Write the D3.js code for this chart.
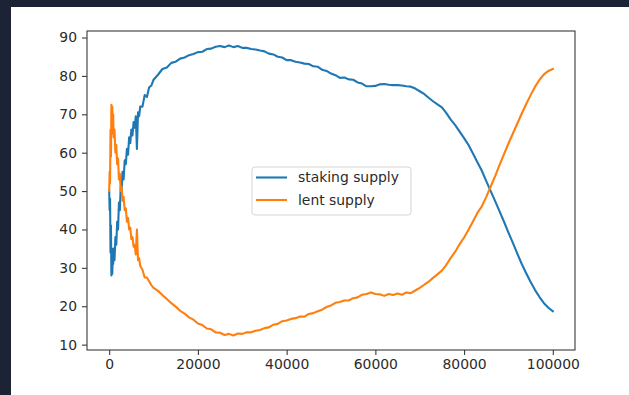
<!DOCTYPE html>
<html>
<head>
<meta charset="utf-8">
<script src="https://cdn.jsdelivr.net/npm/d3@7/dist/d3.min.js"></script>
<style>
  html, body { margin: 0; padding: 0; background: #1b2334; }
  svg { display: block; }
  .tick text { font-family: "DejaVu Sans", sans-serif; font-size: 13.9px; fill: #2b2b2b; }
  .tick line { stroke: #3a3a3a; stroke-width: 1.1px; }
</style>
</head>
<body>
<svg id="chart" width="629" height="395"></svg>
<script>
// Simulation step at which each sample was recorded
const steps = [
  0, 100, 200, 300, 400, 500, 600, 700, 800, 900, 1000, 1200, 1400, 1600, 1800, 2000,
  2200, 2400, 2600, 2800, 3000, 3250, 3500, 3750, 4000, 4250, 4500, 4750, 5000, 5250,
  5500, 5750, 6000, 6250, 6500, 6750, 7000, 7500, 8000, 8500, 9000, 9500,
  10000, 11000, 12000, 13000, 14000, 15000, 16000, 17000, 18000, 19000,
  20000, 21000, 22000, 23000, 24000, 25000, 26000, 27000, 28000, 29000,
  30000, 31000, 32000, 33000, 34000, 35000, 36000, 37000, 38000, 39000,
  40000, 41000, 42000, 43000, 44000, 45000, 46000, 47000, 48000, 49000,
  50000, 51000, 52000, 53000, 54000, 55000, 56000, 57000, 58000, 59000,
  60000, 61000, 62000, 63000, 64000, 65000, 66000, 67000, 68000, 69000,
  70000, 71000, 72000, 73000, 74000, 75000, 76000, 77000, 78000, 79000,
  80000, 81000, 82000, 83000, 84000, 85000, 86000, 87000, 88000, 89000,
  90000, 91000, 92000, 93000, 94000, 95000, 96000, 97000, 98000, 99000,
  100000
];

// Share of supply that is staked (%)
const stakingSupply = [
  50, 45, 48, 34, 41, 28, 35, 28.5, 33, 31, 35, 32, 38, 36, 42, 40,
  47, 45, 51, 50, 55, 53, 58, 57, 61, 59.5, 64, 62.5, 66, 64.5,
  68, 66.5, 69.5, 61, 70.5, 69.5, 72, 72, 75, 74.5, 77, 77.5,
  79, 80.3, 81.8, 82.2, 83.4, 83.7, 84.5, 84.8, 85.4, 85.7,
  86.2, 86.3, 87.0, 87.1, 87.6, 87.8, 87.5, 87.9, 87.5, 87.8,
  87.3, 87.3, 87.0, 86.9, 86.6, 86.4, 85.8, 85.6, 85.0, 84.8,
  84.1, 84.1, 83.7, 83.5, 83.2, 83.1, 82.5, 82.4, 81.6, 81.3,
  80.6, 80.2, 79.5, 79.6, 79.1, 79.0, 78.3, 78.0, 77.3, 77.3,
  77.4, 77.8, 77.9, 77.7, 77.6, 77.6, 77.5, 77.3, 77.2, 76.7,
  76.0, 75.3, 74.3, 73.4, 72.6, 71.8, 70.3, 68.6, 67.2, 65.5,
  63.8, 62.0, 59.8, 57.5, 55.3, 52.6, 50.0, 47.4, 44.7, 42.0,
  39.2, 36.5, 33.7, 31.0, 28.6, 26.3, 24.2, 22.4, 20.8, 19.6,
  18.7
];

// Share of supply that is lent out (%)
const lentSupply = [
  50, 55, 52, 66, 59, 72.5, 65, 72, 67, 70, 64, 66, 60, 62, 57, 58.5,
  53, 54.5, 50, 51, 47.5, 48.5, 45, 45.5, 42, 43, 40, 40.5, 37.5, 38,
  35.5, 36, 33.5, 40, 32, 32.5, 30.5, 29.5, 27.5, 27.5, 26.5, 25.5,
  24.8, 24.0, 22.9, 21.9, 20.8, 19.9, 18.8, 18.1, 17.1, 16.5,
  15.5, 15.1, 14.2, 14.0, 13.2, 13.1, 12.5, 12.8, 12.4, 12.9,
  12.8, 13.2, 13.2, 13.6, 13.8, 14.3, 14.5, 15.2, 15.4, 16.1,
  16.3, 16.7, 16.9, 17.3, 17.3, 18.0, 18.2, 18.7, 19.1, 19.8,
  20.2, 20.9, 21.1, 21.5, 21.5, 22.1, 22.3, 23.0, 23.2, 23.6,
  23.2, 23.1, 22.7, 23.2, 22.9, 23.3, 23.0, 23.6, 23.4, 24.1,
  24.8, 25.6, 26.4, 27.4, 28.3, 29.3, 30.8, 32.6, 34.2, 36.2,
  37.9, 39.9, 42.1, 44.3, 46.0, 48.5, 51.2, 53.9, 56.8, 59.6,
  62.4, 65.0, 67.6, 70.2, 72.7, 75.0, 77.2, 79.0, 80.4, 81.3,
  81.8
];

const xTicks = [0, 20000, 40000, 60000, 80000, 100000];
const yTicks = [10, 20, 30, 40, 50, 60, 70, 80, 90];
const seriesNames = ["staking supply", "lent supply"];
const seriesColors = ["#1f77b4", "#ff7f0e"];

const svg = d3.select("#chart");

// White figure panel
svg.append("rect")
  .attr("x", 11).attr("y", 7)
  .attr("width", 629 - 11).attr("height", 395 - 7)
  .attr("fill", "#ffffff");

const plot = { left: 87, top: 31, right: 575, bottom: 350 };

const x = d3.scaleLinear().domain([-5000, 105000]).range([plot.left, plot.right]);
const y = d3.scaleLinear().domain([8.6, 91.7]).range([plot.bottom, plot.top]);

svg.append("clipPath").attr("id", "plot-clip")
  .append("rect")
  .attr("x", plot.left).attr("y", plot.top)
  .attr("width", plot.right - plot.left).attr("height", plot.bottom - plot.top);

const series = [stakingSupply, lentSupply];
const line = d3.line()
  .x((d, i) => x(steps[i]))
  .y(d => y(d));

const lines = svg.append("g").attr("clip-path", "url(#plot-clip)");
series.forEach((vals, k) => {
  lines.append("path")
    .datum(vals)
    .attr("fill", "none")
    .attr("stroke", seriesColors[k])
    .attr("stroke-width", 2.1)
    .attr("stroke-linejoin", "round")
    .attr("stroke-linecap", "square")
    .attr("d", line);
});

// Axes
const xAxis = svg.append("g")
  .attr("transform", `translate(0,${plot.bottom})`)
  .call(d3.axisBottom(x).tickValues(xTicks).tickFormat(d3.format("d")).tickSize(5).tickPadding(4.5));
xAxis.select(".domain").remove();

const yAxis = svg.append("g")
  .attr("transform", `translate(${plot.left},0)`)
  .call(d3.axisLeft(y).tickValues(yTicks).tickFormat(d3.format("d")).tickSize(5).tickPadding(5));
yAxis.select(".domain").remove();

svg.selectAll(".tick text").attr("font-family", null).attr("font-size", null);

// Axes frame
svg.append("rect")
  .attr("x", plot.left).attr("y", plot.top)
  .attr("width", plot.right - plot.left).attr("height", plot.bottom - plot.top)
  .attr("fill", "none")
  .attr("stroke", "#3a3a3a")
  .attr("stroke-width", 1.1);

// Legend
const legend = svg.append("g").attr("transform", "translate(252,167)");
legend.append("rect")
  .attr("width", 159).attr("height", 48)
  .attr("rx", 3).attr("ry", 3)
  .attr("fill", "#ffffff").attr("fill-opacity", 0.8)
  .attr("stroke", "#d5d5d5").attr("stroke-width", 1);

seriesNames.forEach((name, k) => {
  const cy = 10.5 + k * 22.5;
  legend.append("line")
    .attr("x1", 4).attr("x2", 35)
    .attr("y1", cy).attr("y2", cy)
    .attr("stroke", seriesColors[k])
    .attr("stroke-width", 2.1);
  legend.append("text")
    .attr("x", 46).attr("y", cy + 4.8)
    .attr("font-family", "DejaVu Sans, sans-serif")
    .attr("font-size", 13.9)
    .attr("fill", "#2b2b2b")
    .text(name);
});
</script>
</body>
</html>
